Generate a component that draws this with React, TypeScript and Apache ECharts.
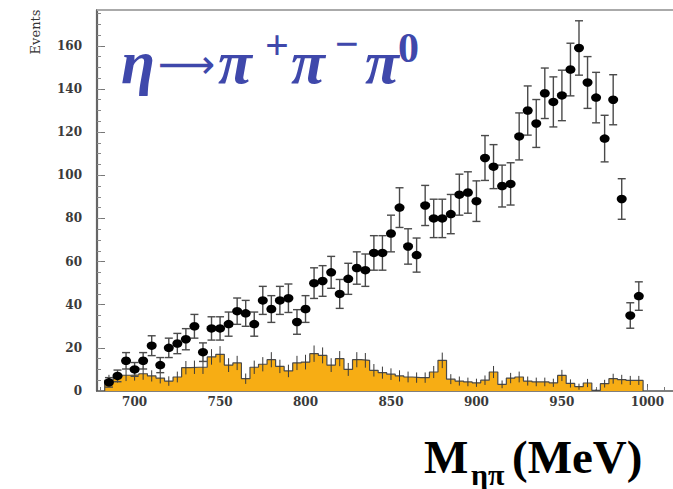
import React, { useEffect, useRef } from "react";
import * as echarts from "echarts";

const massCenters = [
  685, 690, 695, 700, 705, 710, 715, 720, 725, 730,
  735, 740, 745, 750, 755, 760, 765, 770, 775, 780,
  785, 790, 795, 800, 805, 810, 815, 820, 825, 830,
  835, 840, 845, 850, 855, 860, 865, 870, 875, 880,
  885, 890, 895, 900, 905, 910, 915, 920, 925, 930,
  935, 940, 945, 950, 955, 960, 965, 970, 975, 980,
  985, 990, 995,
];

const events = [
  4, 7, 14, 10, 14, 21, 12, 20, 22, 24,
  30, 18, 29, 29, 31, 37, 36, 31, 42, 38,
  42, 43, 32, 38, 50, 51, 55, 45, 52, 57,
  56, 64, 64, 73, 85, 67, 63, 86, 80, 80,
  82, 91, 92, 88, 108, 104, 95, 96, 118, 130,
  124, 138, 134, 137, 149, 159, 143, 136, 117, 135,
  89, 35, 44,
];

const eventErrors = [
  2.2, 2.7, 3.8, 3.2, 3.8, 4.6, 3.5, 4.5, 4.7, 4.9,
  5.5, 4.3, 5.4, 5.4, 5.6, 6.1, 6.0, 5.6, 6.5, 6.2,
  6.5, 6.6, 5.7, 6.2, 7.1, 7.1, 7.4, 6.7, 7.2, 7.5,
  7.5, 8.0, 8.0, 8.5, 9.2, 8.2, 7.9, 9.3, 8.9, 8.9,
  9.1, 9.5, 9.6, 9.4, 10.4, 10.2, 9.7, 9.8, 10.9, 11.4,
  11.1, 11.7, 11.6, 11.7, 12.2, 12.6, 12.0, 11.7, 10.8, 11.6,
  9.4, 5.9, 6.6,
];

const background = [
  5, 6.5, 7.3, 7.5, 8, 7, 6, 4.6, 6.5, 10.8,
  11, 11, 15.8, 17, 12, 13, 5.7, 11, 12.4, 14.5,
  11.4, 9.3, 13, 13.4, 17.3, 16.5, 12, 15, 10, 14.5,
  14.2, 9.6, 8.5, 7.8, 7, 6.5, 6.2, 6.2, 8.8, 14.2,
  5.5, 4.6, 4.2, 3.8, 5, 8.8, 3.1, 6, 6.5, 4.6,
  4.2, 4.2, 3.8, 7.2, 3.5, 2, 3.7, 0.3, 3.4, 5.7,
  5.3, 4.9, 4.9,
];

const backgroundErrors = [
  2.5, 2.6, 2.7, 2.7, 2.8, 2.6, 2.5, 2.2, 2.5, 3.1,
  3.1, 3.1, 3.6, 3.8, 3.2, 3.3, 2.4, 3.1, 3.3, 3.5,
  3.1, 2.9, 3.3, 3.4, 3.8, 3.7, 3.2, 3.5, 3.0, 3.5,
  3.4, 2.9, 2.8, 2.7, 2.6, 2.5, 2.4, 2.4, 2.8, 3.6,
  2.3, 2.1, 2.0, 1.9, 2.2, 2.8, 1.8, 2.4, 2.5, 2.1,
  2.0, 2.0, 1.9, 2.6, 1.9, 1.4, 1.9, 0.5, 1.8, 2.3,
  2.2, 2.1, 2.1,
];

const BIN_WIDTH = 5;
const xTickLabels = [700, 750, 800, 850, 900, 950, 1000];
const xMinorTicks = [680, 690, 700, 710, 720, 730, 740, 750, 760, 770, 780, 790, 800, 810, 820, 830, 840, 850, 860, 870, 880, 890, 900, 910, 920, 930, 940, 950, 960, 970, 980, 990, 1000, 1010];
const yTickLabels = [0, 20, 40, 60, 80, 100, 120, 140, 160];
const yMinorTicks = [5, 10, 15, 20, 25, 30, 35, 40, 45, 50, 55, 60, 65, 70, 75, 80, 85, 90, 95, 100, 105, 110, 115, 120, 125, 130, 135, 140, 145, 150, 155, 160, 165, 170, 175];

const X_MIN = 678;
const X_MAX = 1015;
const Y_MAX = 176.6;

const BLUE = "#3f48ab";
const ORANGE = "#f7ad14";

export default function App() {
  const ref = useRef<HTMLDivElement>(null);

  useEffect(() => {
    if (!ref.current) return;
    const chart = echarts.init(ref.current, undefined, { renderer: "svg" });

    const half = BIN_WIDTH / 2;
    const last = massCenters.length - 1;
    const histLine: number[][] = [[massCenters[0] - half, 0]];
    massCenters.forEach((c, i) => histLine.push([c - half, background[i]]));
    histLine.push([massCenters[last] + half, background[last]]);
    histLine.push([massCenters[last] + half, 0]);

    const errData = massCenters.map((c, i) => [c, events[i] - eventErrors[i], events[i] + eventErrors[i]]);
    const bgErrData = massCenters.map((c, i) => [c, background[i] - backgroundErrors[i], background[i] + backgroundErrors[i]]);
    const points = massCenters.map((c, i) => [c, events[i]]);

    const labelFont = { fontFamily: "DejaVu Serif", fontWeight: "bold" as const, fontSize: 12, color: "#3a3a3a" };
    const plain = (v: number) => String(v);

    const option: any = {
      animation: false,
      backgroundColor: "#ffffff",
      grid: { left: 97, top: 10, right: 0, bottom: 98, containLabel: false },
      xAxis: [
        {
          type: "value",
          min: X_MIN,
          max: X_MAX,
          axisLine: { show: true, onZero: false, lineStyle: { color: "#555", width: 1.6 } },
          axisTick: { show: true, inside: true, length: 7, customValues: xTickLabels, lineStyle: { color: "#666", width: 1 } },
          axisLabel: { show: true, margin: 5, customValues: xTickLabels, formatter: plain, ...labelFont },
          splitLine: { show: false },
        },
        {
          type: "value",
          min: X_MIN,
          max: X_MAX,
          position: "bottom",
          axisLine: { show: false },
          axisTick: { show: true, inside: true, length: 4, customValues: xMinorTicks, lineStyle: { color: "#777", width: 1 } },
          axisLabel: { show: false },
          splitLine: { show: false },
        },
      ],
      yAxis: [
        {
          type: "value",
          min: 0,
          max: Y_MAX,
          axisLine: { show: true, onZero: false, lineStyle: { color: "#666", width: 2.2 } },
          axisTick: { show: true, inside: true, length: 8, customValues: yTickLabels, lineStyle: { color: "#777", width: 1 } },
          axisLabel: { show: true, margin: 15, customValues: yTickLabels, formatter: plain, ...labelFont },
          splitLine: { show: false },
        },
        {
          type: "value",
          min: 0,
          max: Y_MAX,
          position: "left",
          axisLine: { show: false },
          axisTick: { show: true, inside: true, length: 4, customValues: yMinorTicks, lineStyle: { color: "#888", width: 1 } },
          axisLabel: { show: false },
          splitLine: { show: false },
        },
      ],
      series: [
        {
          type: "line",
          name: "background",
          data: histLine,
          step: "end",
          showSymbol: false,
          symbol: "none",
          lineStyle: { color: "#4a4a4a", width: 1.2 },
          areaStyle: { color: ORANGE, opacity: 1 },
          z: 1,
        },
        {
          type: "custom",
          name: "background errors",
          data: bgErrData,
          z: 2,
          renderItem: (params: any, api: any) => {
            const x = api.value(0);
            const lo = api.coord([x, Math.max(0, api.value(1))]);
            const hi = api.coord([x, api.value(2)]);
            return {
              type: "line",
              shape: { x1: lo[0], y1: lo[1], x2: hi[0], y2: hi[1] },
              style: { stroke: "#3a3a3a", lineWidth: 1 },
            };
          },
        },
        {
          type: "custom",
          name: "event errors",
          data: errData,
          z: 3,
          renderItem: (params: any, api: any) => {
            const x = api.value(0);
            const lo = api.coord([x, api.value(1)]);
            const hi = api.coord([x, api.value(2)]);
            const hw = 4;
            const st = { stroke: "#4a4a4a", lineWidth: 1.4 };
            return {
              type: "group",
              children: [
                { type: "line", shape: { x1: lo[0], y1: lo[1], x2: hi[0], y2: hi[1] }, style: st },
                { type: "line", shape: { x1: lo[0] - hw, y1: lo[1], x2: lo[0] + hw, y2: lo[1] }, style: st },
                { type: "line", shape: { x1: hi[0] - hw, y1: hi[1], x2: hi[0] + hw, y2: hi[1] }, style: st },
              ],
            };
          },
        },
        {
          type: "scatter",
          name: "events",
          data: points,
          symbol: "circle",
          symbolSize: [10, 8.5],
          itemStyle: { color: "#000000", opacity: 1 },
          z: 4,
        },
      ],
      graphic: [
        { type: "line", shape: { x1: 97, y1: 10, x2: 673, y2: 10 }, style: { stroke: "#aaaaaa", lineWidth: 2 }, z: 10 },
        {
          type: "text", x: 35, y: 32, rotation: Math.PI / 2,
          style: { text: "Events", font: '13px "DejaVu Serif"', fill: "#333", align: "center", verticalAlign: "middle" },
        },
        // title η → π+ π− π0
        { type: "text", x: 121, y: 62, style: { text: "η", font: 'italic bold 62px "Liberation Serif"', fill: BLUE, align: "left", verticalAlign: "middle" } },
        { type: "text", x: 158, y: 64, style: { text: "⟶", font: '40px "DejaVu Sans"', fill: BLUE, align: "left", verticalAlign: "middle" } },
        { type: "text", x: 218, y: 62, style: { text: "π", font: 'italic bold 62px "Liberation Serif"', fill: BLUE, align: "left", verticalAlign: "middle" } },
        { type: "text", x: 265, y: 45, style: { text: "+", font: 'bold 42px "Liberation Serif"', fill: BLUE, align: "left", verticalAlign: "middle" } },
        { type: "text", x: 291, y: 62, style: { text: "π", font: 'italic bold 62px "Liberation Serif"', fill: BLUE, align: "left", verticalAlign: "middle" } },
        { type: "text", x: 335, y: 44, style: { text: "−", font: 'bold 42px "Liberation Serif"', fill: BLUE, align: "left", verticalAlign: "middle" } },
        { type: "text", x: 365, y: 62, style: { text: "π", font: 'italic bold 62px "Liberation Serif"', fill: BLUE, align: "left", verticalAlign: "middle" } },
        { type: "text", x: 398, y: 48, style: { text: "0", font: 'bold 42px "Liberation Serif"', fill: BLUE, align: "left", verticalAlign: "middle" } },
        // axis title M_ηπ (MeV)
        { type: "text", x: 424, y: 457, style: { text: "M", font: 'bold 47px "Liberation Serif"', fill: "#000", align: "left", verticalAlign: "middle" } },
        { type: "text", x: 471, y: 474, style: { text: "ηπ", font: 'bold 30px "Liberation Serif"', fill: "#000", align: "left", verticalAlign: "middle" } },
        { type: "text", x: 512, y: 457, style: { text: "(MeV)", font: 'bold 47px "Liberation Serif"', fill: "#000", align: "left", verticalAlign: "middle" } },
      ],
    };

    chart.setOption(option);
    return () => chart.dispose();
  }, []);

  return (
    <div
      ref={ref}
      style={{ position: "absolute", left: 0, top: 0, width: 673, height: 489, background: "#fff" }}
    />
  );
}
